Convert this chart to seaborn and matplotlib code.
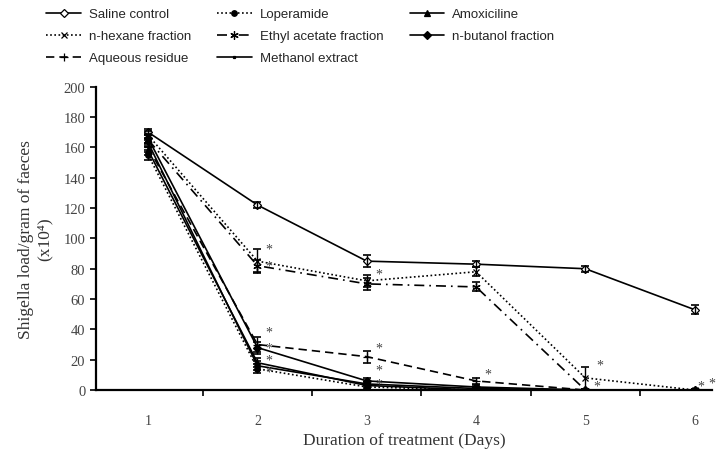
import numpy as np
import pandas as pd
import seaborn as sns
import matplotlib.pyplot as plt

days = [1, 2, 3, 4, 5, 6]

saline = [170, 122, 85, 83, 80, 53]
loperamide = [155, 14, 2, 0, 0, 0]
amoxiciline = [158, 18, 3, 0, 0, 0]
hexane = [168, 85, 72, 78, 8, 0]
ethyl = [165, 82, 70, 68, 0, 0]
butanol = [166, 28, 6, 2, 0, 0]
aqueous = [160, 30, 22, 6, 0, 0]
methanol = [163, 16, 4, 1, 0, 0]

saline_err = [2, 2, 4, 2, 2, 3]
loperamide_err = [3, 3, 1, 1, 1, 1]
amoxiciline_err = [3, 3, 1, 1, 1, 1]
hexane_err = [3, 8, 4, 3, 7, 1]
ethyl_err = [3, 4, 4, 3, 1, 1]
butanol_err = [3, 4, 2, 1, 1, 1]
aqueous_err = [3, 5, 4, 2, 1, 1]
methanol_err = [3, 3, 1, 1, 1, 1]

names = ['Saline control', 'Loperamide', 'Amoxiciline',
         'n-hexane fraction', 'Ethyl acetate fraction', 'n-butanol fraction',
         'Aqueous residue', 'Methanol extract']
values = [saline, loperamide, amoxiciline, hexane, ethyl, butanol, aqueous, methanol]
errors = [saline_err, loperamide_err, amoxiciline_err, hexane_err, ethyl_err,
          butanol_err, aqueous_err, methanol_err]

# significance asterisks: (series, day)
stars = [('n-hexane fraction', 2), ('Ethyl acetate fraction', 2), ('n-hexane fraction', 3),
         ('n-hexane fraction', 5), ('Ethyl acetate fraction', 6),
         ('Aqueous residue', 2), ('n-butanol fraction', 2), ('Methanol extract', 2),
         ('Amoxiciline', 2), ('Aqueous residue', 3), ('n-butanol fraction', 3),
         ('Methanol extract', 3), ('Aqueous residue', 4), ('Methanol extract', 5),
         ('n-hexane fraction', 6)]
# offsets in points for the asterisks, same order
star_off = [(6, 9), (6, 0), (6, 5), (8, 9), (2, 3),
            (6, 9), (6, 0), (6, 4), (6, -7), (6, 6), (6, 8),
            (6, 0), (6, 5), (6, 3), (10, 5)]

styles = {
    'Saline control': dict(ls='-', marker='D', mfc='white', ms=4),
    'Loperamide': dict(ls=(0, (1, 1.5)), marker='o', mfc='black', ms=4),
    'Amoxiciline': dict(ls='-', marker='^', mfc='black', ms=5),
    'n-hexane fraction': dict(ls=(0, (1, 1.5)), marker='x', mfc='black', ms=5),
    'Ethyl acetate fraction': dict(ls=(0, (6, 3, 1, 3)), marker=(6, 2, 0), mfc='black', ms=6),
    'n-butanol fraction': dict(ls='-', marker='D', mfc='black', ms=4),
    'Aqueous residue': dict(ls=(0, (5, 3)), marker='+', mfc='black', ms=6),
    'Methanol extract': dict(ls='-', marker='s', mfc='black', ms=2),
}

sns.set_style('white')
plt.rcParams['font.family'] = ['Liberation Sans', 'DejaVu Sans']

fig = plt.figure(figsize=(7.2, 4.56), dpi=100)
ax = fig.add_axes([0.133, 0.1425, 0.856, 0.665])

for name, vals, err in zip(names, values, errors):
    st = styles[name]
    df = pd.DataFrame({'day': days, 'load': vals})
    sns.lineplot(data=df, x='day', y='load', ax=ax, color='black', lw=1.2,
                 linestyle=st['ls'], marker=st['marker'], markersize=st['ms'],
                 markerfacecolor=st['mfc'], markeredgecolor='black',
                 markeredgewidth=0.9, label=name)
    ax.errorbar(days, vals, yerr=err, fmt='none', ecolor='black',
                elinewidth=1, capsize=3, capthick=1.2)

lookup = dict(zip(names, values))
for (name, d), off in zip(stars, star_off):
    ax.annotate('*', (d, lookup[name][d - 1]), xytext=off, textcoords='offset points',
                fontsize=10, color='#444444', va='center', family=['Liberation Serif'])

ax.set_xlim(0.52, 6.16)
ax.set_ylim(0, 200)
ax.set_yticks(np.arange(0, 201, 20))
ax.set_xticks([1.5, 2.5, 3.5, 4.5, 5.5])
ax.set_xticklabels([])
for d in days:
    ax.text(d, -0.1, str(d), transform=ax.get_xaxis_transform(), ha='center',
            va='center', fontsize=10, color='#444444', family=['Liberation Serif'])
ax.tick_params(axis='both', direction='out', length=4, width=1.2, color='black',
               left=True, bottom=True)
for lab in ax.get_yticklabels():
    lab.set_family(['Liberation Serif'])
    lab.set_fontsize(10.5)
    lab.set_color('#444444')
for s in ['top', 'right']:
    ax.spines[s].set_visible(False)
for s in ['left', 'bottom']:
    ax.spines[s].set_color('black')
    ax.spines[s].set_linewidth(1.6)

ax.set_xlabel('Duration of treatment (Days)', fontsize=12.5, family=['Liberation Serif'],
              color='#333333', labelpad=23)
ax.set_ylabel('Shigella load/gram of faeces\n(x10\u2074)', fontsize=12.5,
              family=['Liberation Serif', 'DejaVu Serif'], color='#333333', labelpad=8)

# legend filled row by row like the original
handles, labels = ax.get_legend_handles_labels()
order = [0, 3, 6, 1, 4, 7, 2, 5]
ax.legend([handles[i] for i in order], [labels[i] for i in order], ncol=3,
          loc='upper left', bbox_to_anchor=(-0.08, 1.26), frameon=False,
          fontsize=9.5, handlelength=2.6, columnspacing=2.0, labelspacing=0.75,
          handletextpad=0.6, borderpad=0, borderaxespad=0)

fig.savefig('out.png', dpi=100)
